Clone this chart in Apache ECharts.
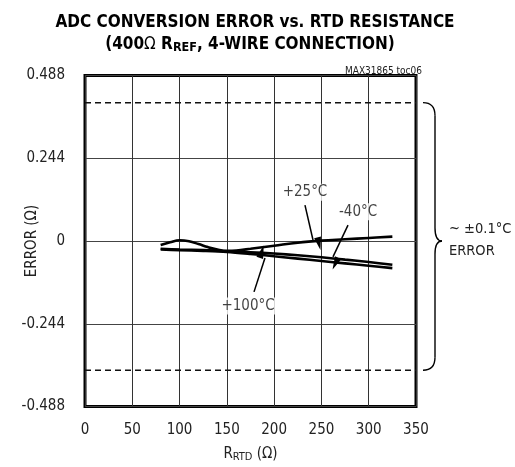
<!DOCTYPE html>
<html><head><meta charset="utf-8">
<script src="https://cdn.jsdelivr.net/npm/echarts@6/dist/echarts.min.js"></script>
<style>html,body{margin:0;padding:0;background:#fff}#c{width:515px;height:467px}</style>
</head><body><div id="c"></div>
<script>
// ---- data ----
const xTicks = [0, 50, 100, 150, 200, 250, 300, 350];
const yTickLabels = ['-0.488', '-0.244', '0', '0.244', '0.488'];
const t25X  = [80, 90, 100, 110, 120, 130, 140, 150, 160, 175, 200, 225, 250, 275, 300, 325];
const t25Y  = [-0.012, -0.004, 0.002, -0.001, -0.009, -0.018, -0.025, -0.029, -0.028, -0.023, -0.014, -0.005, 0.001, 0.005, 0.009, 0.013];
const tm40X = [80, 100, 125, 150, 175, 200, 225, 250, 275, 300, 325];
const tm40Y = [-0.023, -0.025, -0.027, -0.030, -0.033, -0.037, -0.042, -0.048, -0.055, -0.062, -0.070];
const t100X = [80, 100, 125, 150, 175, 200, 225, 250, 275, 300, 325];
const t100Y = [-0.025, -0.027, -0.029, -0.032, -0.038, -0.045, -0.052, -0.059, -0.066, -0.073, -0.080];
const limitUpper = 0.408;
const limitLower = -0.381;
const seriesLabels = ['+25°C', '-40°C', '+100°C'];
const labelPos = [[232.6, 0.144], [288.7, 0.086], [172.4, -0.192]];
const arrowFrom = [[232.6, 0.106], [278.1, 0.047], [178.7, -0.150]];
const arrowTo   = [[241.1, 0.003], [262.2, -0.047], [190.3, -0.050]];

const FONT = "'Liberation Sans Narrow', 'DejaVu Sans Condensed', sans-serif";
const zip = (xs, ys) => xs.map((x, i) => [x, ys[i]]);
const curveStyle = { color: '#000', width: 2.6 };

const chart = echarts.init(document.getElementById('c'), null, { renderer: 'canvas' });
const option = {
  animation: false,
  backgroundColor: '#fff',
  textStyle: { fontFamily: FONT },
  title: [
    { text: 'ADC CONVERSION ERROR vs. RTD RESISTANCE', left: 250, top: 9, textAlign: 'center',
      textStyle: { fontFamily: FONT, fontWeight: 'bold', fontSize: 17, color: '#000' } },
    { text: '(400{om|Ω} R{sub|REF}, 4-WIRE CONNECTION)', left: 245, top: 31, textAlign: 'center',
      textStyle: { fontFamily: FONT, fontWeight: 'bold', fontSize: 17, color: '#000',
        rich: {
          om: { fontFamily: FONT, fontWeight: 'normal', fontSize: 17, color: '#000' },
          sub: { fontFamily: FONT, fontWeight: 'bold', fontSize: 12.5, color: '#000', verticalAlign: 'bottom', padding: [5, 0, 0, 0] }
        } } },
    { text: 'MAX31865 toc06', left: 417, top: 61, textAlign: 'right',
      textStyle: { fontFamily: FONT, fontWeight: 'normal', fontSize: 10, color: '#222' } }
  ],
  grid: { left: 85, top: 75.5, width: 331, height: 331, show: true, borderColor: '#000', borderWidth: 3,
    backgroundColor: 'transparent', containLabel: false, outerBoundsMode: 'none' },
  xAxis: {
    type: 'value', min: 0, max: 350, interval: 50,
    name: 'R{sub|RTD} (Ω)', nameLocation: 'middle', nameGap: 40, nameMoveOverlap: false,
    nameTextStyle: { fontFamily: FONT, fontSize: 15, color: '#222',
      rich: { sub: { fontFamily: FONT, fontSize: 11, color: '#222', verticalAlign: 'bottom', padding: [5, 0, 0, 0] } } },
    axisLine: { show: false }, axisTick: { show: false },
    axisLabel: { fontFamily: FONT, fontSize: 15, color: '#222', margin: 16,
      formatter: v => String(xTicks[Math.round(v / 50)]) },
    splitLine: { show: true, lineStyle: { color: '#333', width: 1 } }
  },
  yAxis: {
    type: 'value', min: -0.488, max: 0.488, interval: 0.244,
    name: 'ERROR (Ω)', nameLocation: 'middle', nameGap: 45, nameRotate: 90, nameMoveOverlap: false,
    nameTextStyle: { fontFamily: FONT, fontSize: 15, color: '#222' },
    axisLine: { show: false }, axisTick: { show: false },
    axisLabel: { fontFamily: FONT, fontSize: 15, color: '#222', margin: 20,
      formatter: v => yTickLabels[Math.round((v + 0.488) / 0.244)] },
    splitLine: { show: true, lineStyle: { color: '#444', width: 1 } }
  },
  series: [
    { type: 'line', data: [[0, limitUpper], [350, limitUpper]], symbol: 'none', silent: true,
      lineStyle: { color: '#111', width: 1.5, type: [6, 4] }, z: 3 },
    { type: 'line', data: [[0, limitLower], [350, limitLower]], symbol: 'none', silent: true,
      lineStyle: { color: '#111', width: 1.5, type: [6, 4] }, z: 3 },
    { name: seriesLabels[1], type: 'line', data: zip(tm40X, tm40Y), symbol: 'none', smooth: 0.3, lineStyle: curveStyle, z: 4 },
    { name: seriesLabels[2], type: 'line', data: zip(t100X, t100Y), symbol: 'none', smooth: 0.3, lineStyle: curveStyle, z: 4 },
    { name: seriesLabels[0], type: 'line', data: zip(t25X, t25Y), symbol: 'none', smooth: 0.4, lineStyle: curveStyle, z: 4,
      markLine: {
        silent: true, symbol: ['none', 'triangle'], symbolSize: [7, 13], symbolOffset: [0, -5],
        label: { show: false },
        lineStyle: { color: '#000', width: 1.5, type: 'solid' },
        data: arrowFrom.map((f, i) => [{ coord: f }, { coord: arrowTo[i] }])
      } },
    { type: 'scatter', data: labelPos.map((p, i) => [p[0], p[1], seriesLabels[i]]), symbolSize: 1, silent: true, z: 6,
      itemStyle: { color: 'rgba(0,0,0,0)' },
      label: { show: true, position: 'inside', formatter: p => p.data[2], fontFamily: FONT, fontSize: 15, color: '#111',
        backgroundColor: '#fff', padding: [1, 1] } }
  ]
};
chart.setOption(option);

// brace and its text on the right side
const pTop = chart.convertToPixel({ gridIndex: 0 }, [350, limitUpper]);
const pBot = chart.convertToPixel({ gridIndex: 0 }, [350, limitLower]);
const pMid = chart.convertToPixel({ gridIndex: 0 }, [350, 0]);
const bx0 = pTop[0] + 7, bx1 = bx0 + 12, bx2 = bx1 + 7;
const yT = pTop[1], yB = pBot[1], yM = pMid[1];
const bs = { stroke: '#000', lineWidth: 1.4, fill: 'none' };
chart.setOption({
  graphic: [
    { type: 'bezierCurve', shape: { x1: bx0, y1: yT, cpx1: bx1, cpy1: yT, x2: bx1, y2: yT + 13 }, style: bs },
    { type: 'line', shape: { x1: bx1, y1: yT + 13, x2: bx1, y2: yM - 13 }, style: bs },
    { type: 'bezierCurve', shape: { x1: bx1, y1: yM - 13, cpx1: bx1, cpy1: yM, x2: bx2, y2: yM }, style: bs },
    { type: 'bezierCurve', shape: { x1: bx2, y1: yM, cpx1: bx1, cpy1: yM, x2: bx1, y2: yM + 13 }, style: bs },
    { type: 'line', shape: { x1: bx1, y1: yM + 13, x2: bx1, y2: yB - 13 }, style: bs },
    { type: 'bezierCurve', shape: { x1: bx1, y1: yB - 13, cpx1: bx1, cpy1: yB, x2: bx0, y2: yB }, style: bs },
    { type: 'text', left: bx2 + 7, top: yM - 19, style: { text: '~ ±0.1°C', font: '14.5px ' + FONT, fill: '#222' } },
    { type: 'text', left: bx2 + 7, top: yM + 3, style: { text: 'ERROR', font: '14.5px ' + FONT, fill: '#222' } }
  ]
});
</script>
</body></html>
